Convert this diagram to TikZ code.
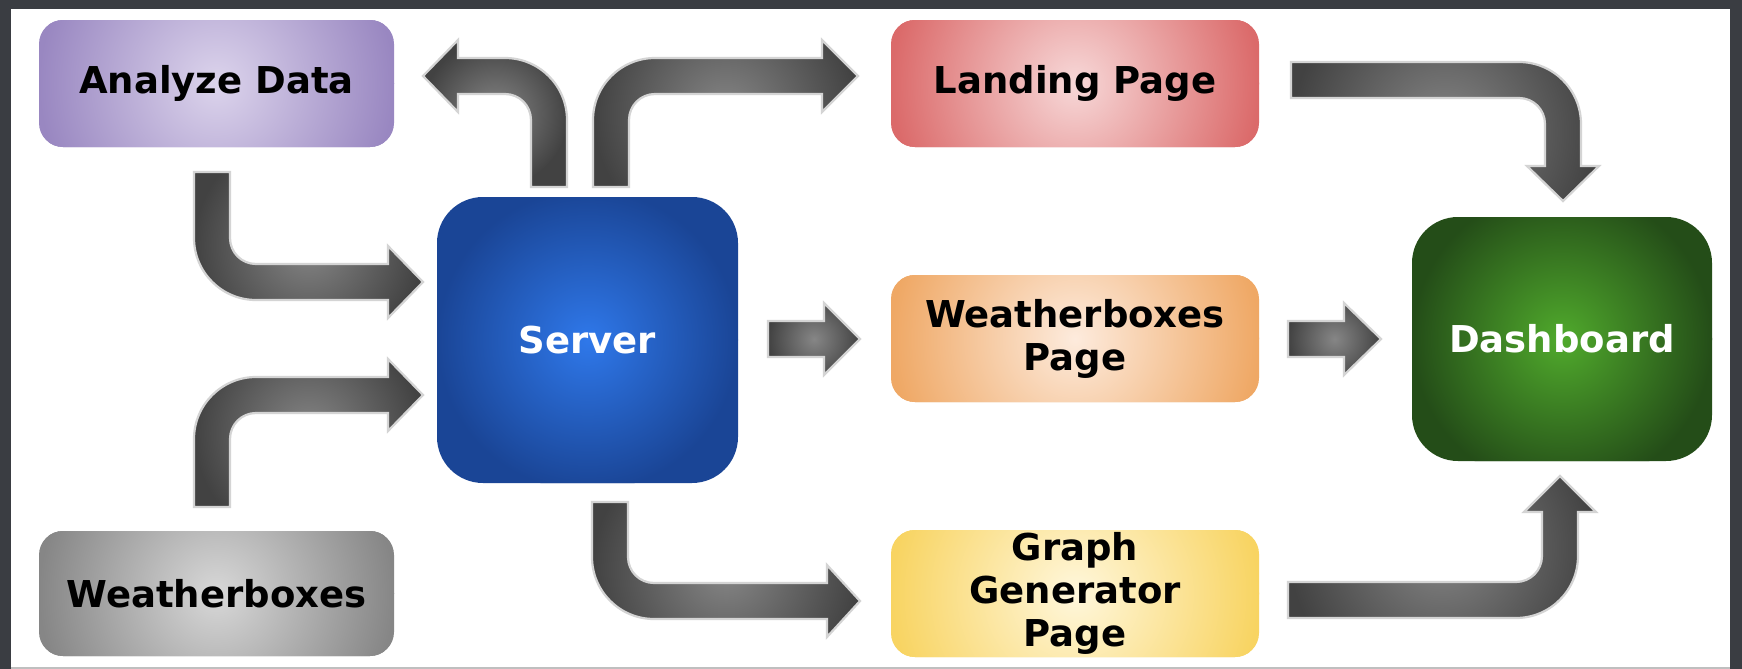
\documentclass[tikz,border=0pt]{standalone}
\usepackage{fontspec}
\setmainfont{DejaVu Sans}
\usetikzlibrary{calc}

\definecolor{framedark}{HTML}{3A3D42}
\definecolor{anaIn}{HTML}{DCD4EC}
\definecolor{anaOut}{HTML}{9987C1}
\definecolor{landIn}{HTML}{F7D8D8}
\definecolor{landOut}{HTML}{DB6A6A}
\definecolor{wpIn}{HTML}{FDEBDD}
\definecolor{wpOut}{HTML}{EFA865}
\definecolor{graphIn}{HTML}{FFF7DC}
\definecolor{graphOut}{HTML}{F8D462}
\definecolor{wbIn}{HTML}{D8D8D8}
\definecolor{wbOut}{HTML}{868686}
\definecolor{srvIn}{HTML}{2F78EA}
\definecolor{srvOut}{HTML}{1A4596}
\definecolor{dashIn}{HTML}{50AA2C}
\definecolor{dashOut}{HTML}{244D18}
\definecolor{pipeIn}{HTML}{868686}
\definecolor{pipeOut}{HTML}{424242}
\definecolor{pipeEdge}{HTML}{D4D4D4}

\tikzset{
  glow/.style 2 args={fill=#2,
    path picture={\shade[inner color=#1, outer color=#2]
      let \p1=($(path picture bounding box.north east)-(path picture bounding box.center)$) in
      (path picture bounding box.center) circle[radius={max(abs(\x1),abs(\y1))*1pt}];}},
  panel/.style 2 args={glow={#1}{#2}, rounded corners=12pt, inner sep=0pt, align=center,
    text=black, font=\bfseries\fontsize{18.5}{21.5}\selectfont},
  pipe/.style={glow={pipeIn}{pipeOut}, draw=pipeEdge, line width=1.1pt}
}

\begin{document}
\begin{tikzpicture}[x=0.5pt,y=-0.5pt]
        \useasboundingbox (0,0) rectangle (1742,669);
        % Frame
        \fill[framedark] (0,0) rectangle (1742,669);
        \fill[white] (11,9) rectangle (1730,667);
        \fill[black!25] (11,667) rectangle (1730,669);

        % Boxes
        \node[panel={anaIn}{anaOut}, minimum width=177.5pt, minimum height=63.5pt] (analyze) at (216.5,83.5) {Analyze Data};
        \node[panel={wbIn}{wbOut}, minimum width=177.5pt, minimum height=62.5pt] (wboxes) at (216.5,593.5) {Weatherboxes};
        \node[panel={srvIn}{srvOut}, rounded corners=23pt, text=white, minimum width=150.5pt, minimum height=143pt] (server) at (587.5,340) {Server};
        \node[panel={landIn}{landOut}, minimum width=184pt, minimum height=63.5pt] (landing) at (1075,83.5) {Landing Page};
        \node[panel={wpIn}{wpOut}, minimum width=184pt, minimum height=63.5pt] (wpage) at (1075,338.5) {Weatherboxes\\Page};
        \node[panel={graphIn}{graphOut}, minimum width=184pt, minimum height=63.5pt] (graph) at (1075,593.5) {Graph\\Generator\\Page};
        \node[panel={dashIn}{dashOut}, rounded corners=23pt, text=white, minimum width=150pt, minimum height=122pt] (dash) at (1562,339) {Dashboard};

        % Server to Analyze Data
        \path[pipe] (531,187) -- (531,120) .. controls (531,105.6) and (519.4,94) .. (505,94) -- (458,94) -- (458,112) -- (423,76)
          -- (458,40) -- (458,58) -- (505,58) .. controls (539.2,58) and (567,85.8) .. (567,120) -- (567,187) -- cycle;
        % Server to Landing Page
        \path[pipe] (593,187) -- (593,120) .. controls (593,85.8) and (620.8,58) .. (655,58) -- (822,58) -- (822,40) -- (858,76)
          -- (822,112) -- (822,94) -- (655,94) .. controls (640.6,94) and (629,105.6) .. (629,120) -- (629,187) -- cycle;
        % Analyze Data to Server
        \path[pipe] (194,172) -- (194,238) .. controls (194,272.2) and (221.8,300) .. (256,300) -- (388,300) -- (388,318) -- (423,282)
          -- (388,246) -- (388,264) -- (256,264) .. controls (241.6,264) and (230,252.4) .. (230,238) -- (230,172) -- cycle;
        % Weatherboxes to Server
        \path[pipe] (194,507) -- (194,439) .. controls (194,404.8) and (221.8,377) .. (256,377) -- (388,377) -- (388,359) -- (423,395)
          -- (388,431) -- (388,413) -- (256,413) .. controls (241.6,413) and (230,424.6) .. (230,439) -- (230,507) -- cycle;
        % Server to Graph Generator Page
        \path[pipe] (592,502) -- (592,557) .. controls (592,591.2) and (619.8,619) .. (654,619) -- (827,619) -- (827,637) -- (860,601)
          -- (827,565) -- (827,583) -- (654,583) .. controls (639.6,583) and (628,571.4) .. (628,557) -- (628,502) -- cycle;
        % Server to Weatherboxes Page, and on to Dashboard
        \path[pipe] (768,321) -- (824,321) -- (824,303) -- (860,339) -- (824,375) -- (824,357) -- (768,357) -- cycle;
        \path[pipe] (1288,321) -- (1344,321) -- (1344,303) -- (1381,339) -- (1344,375) -- (1344,357) -- (1288,357) -- cycle;
        % Landing Page to Dashboard
        \path[pipe] (1291,62) -- (1519,62) .. controls (1553.2,62) and (1581,89.8) .. (1581,124) -- (1581,166) -- (1599,166) -- (1563,201)
          -- (1527,166) -- (1545,166) -- (1545,124) .. controls (1545,109.6) and (1533.4,98) .. (1519,98) -- (1291,98) -- cycle;
        % Graph Generator Page to Dashboard
        \path[pipe] (1288,618) -- (1516,618) .. controls (1550.2,618) and (1578,590.2) .. (1578,556) -- (1578,512) -- (1596,512) -- (1560,476)
          -- (1524,512) -- (1542,512) -- (1542,556) .. controls (1542,570.4) and (1530.4,582) .. (1516,582) -- (1288,582) -- cycle;
    \end{tikzpicture}
\end{document}
